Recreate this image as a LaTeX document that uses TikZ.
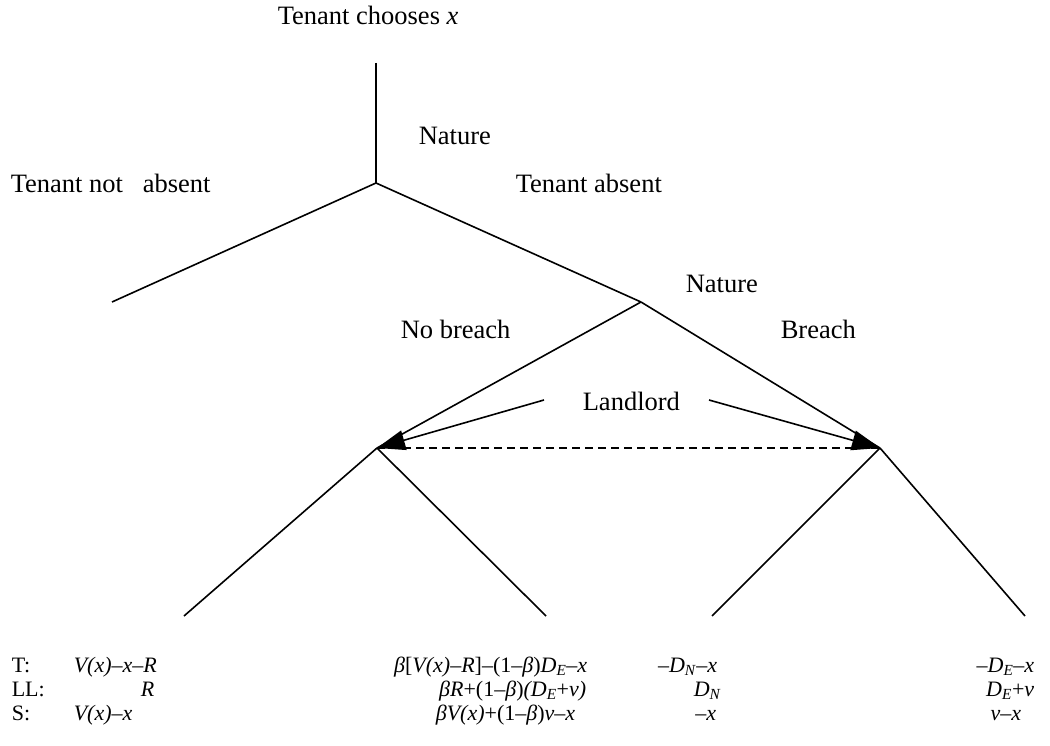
\documentclass[tikz,border=0pt]{standalone}
\usepackage{fontspec}
\setmainfont{Liberation Serif}
\usetikzlibrary{arrows.meta}
\begin{document}
\begin{tikzpicture}[x=1pt,y=-1pt, line width=1.6pt,
  lbl/.style={font=\fontsize{26.5}{30}\selectfont, inner sep=0pt, anchor=base west},
  pay/.style={font=\fontsize{22}{24}\selectfont, inner sep=0pt, anchor=base west},
  payr/.style={pay, anchor=base east},
  branch/.style={line width=1.6pt},
  info/.style={dash pattern=on 8pt off 5pt, line width=1.5pt},
  arr/.style={-{Triangle[length=28pt,width=20pt]}, line width=1.6pt}]
\useasboundingbox (0,0) rectangle (1050,746);
% tree points
\coordinate (top) at (376,63);
\coordinate (n1) at (376,183);
\coordinate (a) at (112,302);
\coordinate (n2) at (641,302);
\coordinate (l1) at (377,448);
\coordinate (l2) at (880,448);
\coordinate (e1) at (184,616);
\coordinate (e2) at (546,616);
\coordinate (e3) at (712,616);
\coordinate (e4) at (1025,616);
\coordinate (s1) at (544,400);
\coordinate (s2) at (709,400);
% branches
\draw[branch] (top) -- (n1);
\draw[branch] (n1) -- (a);
\draw[branch] (n1) -- (n2);
\draw[branch] (n2) -- (l1);
\draw[branch] (n2) -- (l2);
\draw[branch] (l1) -- (e1);
\draw[branch] (l1) -- (e2);
\draw[branch] (l2) -- (e3);
\draw[branch] (l2) -- (e4);
\draw[info] (l1) -- (l2);
\draw[arr] (s1) -- (l1);
\draw[arr] (s2) -- (l2);
% labels
\node[lbl] (tc) at (277,25) {Tenant chooses \textit{x}};
\node[lbl] (nat1) at (418,145) {Nature};
\node[lbl] (tna) at (10,193) {Tenant not\ \ \ absent};
\node[lbl] (ta) at (515,193) {Tenant absent};
\node[lbl] (nat2) at (685,292) {Nature};
\node[lbl] (nb) at (400,338) {No breach};
\node[lbl] (br) at (780,338) {Breach};
\node[lbl] (ll) at (582,410) {Landlord};
% payoffs
\node[pay] (rT) at (11,672) {T:};
\node[pay] (rL) at (11,696) {LL:};
\node[pay] (rS) at (11,720) {S:};
\node[pay] (p11) at (73,672) {\textit{V(x)–x–R}};
\node[pay] (p12) at (140,696) {\textit{R}};
\node[pay] (p13) at (73,720) {\textit{V(x)–x}};
\node[payr] (p21) at (588,672) {\textit{β}[\textit{V(x)–R}]–(1–\textit{β})\textit{D}\textsubscript{\textit{E}}\textit{–x}};
\node[payr] (p22) at (587,696) {\textit{βR}+(1–\textit{β})\textit{(D}\textsubscript{\textit{E}}+\textit{v)}};
\node[payr] (p23) at (576,720) {\textit{βV(x)}+(1–\textit{β})\textit{v–x}};
\node[payr] (p31) at (718,672) {\textit{–D}\textsubscript{\textit{N}}\textit{–x}};
\node[payr] (p32) at (722,696) {\textit{D}\textsubscript{\textit{N}}};
\node[payr] (p33) at (717,720) {\textit{–x}};
\node[payr] (p41) at (1035,672) {\textit{–D}\textsubscript{\textit{E}}\textit{–x}};
\node[payr] (p42) at (1035,696) {\textit{D}\textsubscript{\textit{E}}+\textit{v}};
\node[payr] (p43) at (1022,720) {\textit{v–x}};
\end{tikzpicture}
\end{document}
